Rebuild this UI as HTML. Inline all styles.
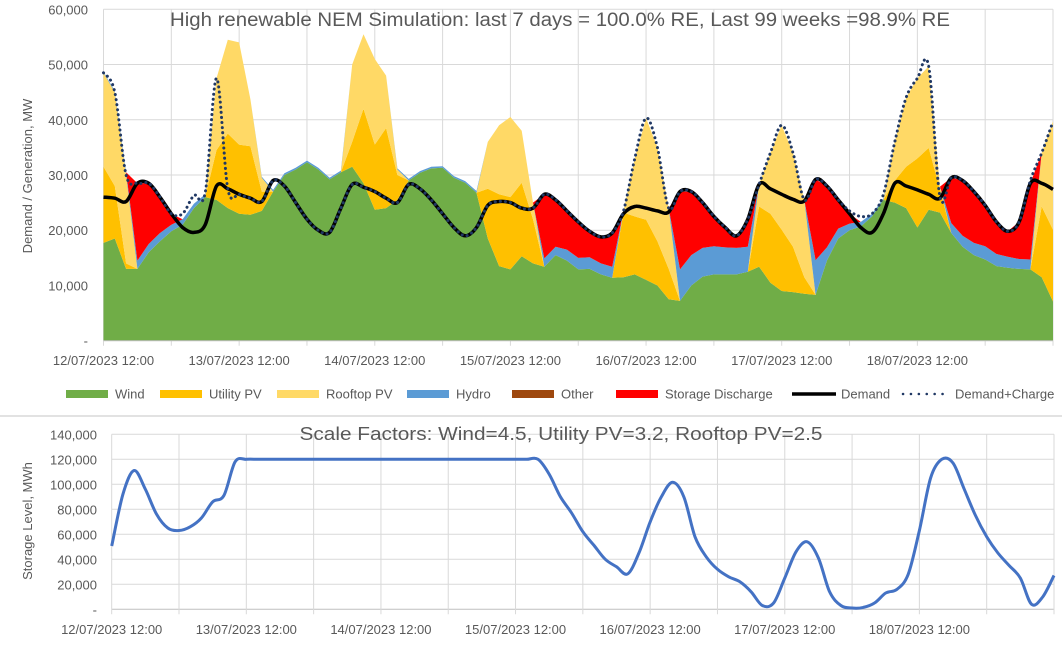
<!DOCTYPE html>
<html><head><meta charset="utf-8"><style>
html,body{margin:0;padding:0;background:#fff;}
svg{display:block;font-family:"Liberation Sans",sans-serif;}
</style></head><body>
<svg id="chart" width="1062" height="646" viewBox="0 0 1062 646" xmlns="http://www.w3.org/2000/svg">
<rect x="0" y="0" width="1062" height="646" fill="#fff"/>
<g id="topGrid"></g>
<g id="topAreas"></g>
<g id="topLines"></g>
<g id="topAxes"></g>
<text x="560" y="26" font-size="19" fill="#595959" text-anchor="middle" textLength="780" lengthAdjust="spacingAndGlyphs">High renewable NEM Simulation: last 7 days = 100.0% RE, Last 99 weeks =98.9% RE</text>
<text transform="translate(32,176) rotate(-90)" font-size="13" fill="#595959" text-anchor="middle">Demand / Generation, MW</text>
<g id="legend"></g>
<line x1="0" y1="416" x2="1062" y2="416" stroke="#d9d9d9" stroke-width="1.5"/>
<g id="botGrid"></g>
<g id="botLines"></g>
<g id="botAxes"></g>
<text x="561" y="440" font-size="18" fill="#595959" text-anchor="middle" textLength="523" lengthAdjust="spacingAndGlyphs">Scale Factors: Wind=4.5, Utility PV=3.2, Rooftop PV=2.5</text>
<text transform="translate(32,521) rotate(-90)" font-size="13" fill="#595959" text-anchor="middle">Storage Level, MWh</text>
</svg>
<script>
// values in thousand MW, sampled every 2 hours from 12/07/2023 12:00
const dayLabels = ["12/07/2023 12:00","13/07/2023 12:00","14/07/2023 12:00","15/07/2023 12:00","16/07/2023 12:00","17/07/2023 12:00","18/07/2023 12:00"];
const topTicks = [0,10,20,30,40,50,60];
const topTickLabels = ["-","10,000","20,000","30,000","40,000","50,000","60,000"];
const botTicks = [0,20,40,60,80,100,120,140];
const botTickLabels = ["-","20,000","40,000","60,000","80,000","100,000","120,000","140,000"];
const wind = [17.7,18.5,13.0,13.0,16.0,18.0,19.8,21.0,24.0,26.0,25.5,24.0,23.0,22.8,23.5,27.0,30.0,31.0,32.3,31.0,29.2,30.5,31.5,28.5,23.7,24.0,25.5,29.0,30.4,31.2,31.3,29.5,28.6,26.8,18.5,13.5,12.9,15.3,14.0,13.4,15.5,14.5,12.9,13.0,12.0,11.4,11.5,12.0,11.0,10.0,7.5,7.2,10.0,11.6,12.0,12.0,12.0,12.5,13.4,10.5,9.0,8.8,8.5,8.3,14.5,18.5,20.0,20.7,22.5,25.5,25.0,24.0,20.5,23.7,23.2,19.5,17.0,15.5,14.7,13.5,13.2,13.0,12.9,11.5,7.1];
const utilityPV = [13.8,9.5,1,0,0,0,0,0,0,0,9,13.5,12.5,12.4,3.5,0,0,0,0,0,0,0,4.5,13.5,11.8,14.5,4.5,0,0,0,0,0,0,0,9,13,13.1,13.3,8,0,0,0,0,0,0,0,11.7,10.5,10.9,8,5.5,0,0,0,0,0,0,0,10.9,12.5,11.1,8.2,3,0,0,0,0,0,0,0,4,7.5,12.5,11.2,4.2,0,0,0,0,0,0,0,0,12.8,13];
const rooftopPV = [17,17,16,0,0,0,0,0,0,0,13,17,18.5,8.5,2.5,0,0,0,0,0,0,0,14,13.5,15.5,9.5,1,0,0,0,0,0,0,0,8.5,12.5,14.5,9.4,3,0,0,0,0,0,0,0,0.3,10.5,18.4,17,11,0,0,0,0,0,0,0,4,11,18.9,17,14,0,0,0,0,0,0,0,7,12.5,14.5,14.8,0.5,0,0,0,0,0,0,0,0,9.7,19.6];
const hydro = [0.2,0.2,0.5,1.5,1.5,1.5,1.2,1.0,0.8,0.5,0,0,0,0,0.2,0.3,0.3,0.3,0.3,0.3,0.3,0.3,0,0,0,0,0.2,0.3,0.3,0.3,0.3,0.3,0.3,0.3,0,0,0,0,0,1.5,1.5,2.0,2.1,2.1,2.0,2.0,0,0,0,0,0,5.7,5.5,5.2,5.1,4.9,4.8,4.5,0,0,0,0,0,6.3,2.4,1.8,1.2,0.8,0.5,0.3,0,0,0,0,0,1.8,2.0,2.2,2.4,2.2,2.0,1.8,1.8,0,0];
const other = [0,0,0,0,0,0,0,0,0,0,0,0,0,0,0,0,0,0,0,0,0,0,0,0,0,0,0,0,0,0,0,0,0,0,0,0,0,0,0,0,0,0,0,0,0,0,0,0,0,0,0,0,0,0,0,0,0,0,0,0,0,0,0,0,0,0,0,0,0,0,0,0,0,0,0,0,0,0,0,0,0,0,0,0,0];
const storage = [0,0,0,14,11,6.5,2,0,0,0,0,0,0,0,0,0,0,0,0,0,0,0,0,0,0,0,0,0,0,0,0,0,0,0,0,0,0,0,0,11.6,8.5,7,6.5,4.7,4.8,6.1,0,0,0,0,0,14.1,11.5,8.2,5.4,3.6,2.2,5,0,0,0,0,0,14.6,11.1,5.2,1.8,0,0,0,0,0,0,0,0,8.2,10,9.3,7.4,5.8,4.6,6.7,13.8,0,0];
const demand = [26.0,25.8,25.2,28.5,28.5,26.0,23.0,20.5,19.6,21.0,28.0,27.5,26.5,25.8,25.2,29.0,28.0,25.0,22.0,20.0,19.6,24.0,28.3,27.8,27.0,25.8,25.0,28.3,27.5,25.5,23.0,20.5,19.0,20.5,24.5,25.2,25.0,24.0,24.0,26.5,25.5,23.5,21.5,19.8,18.8,19.5,23.0,24.3,24.0,23.5,23.3,27.0,27.0,25.0,22.5,20.5,19.0,22.0,28.3,27.5,26.5,25.6,25.3,29.2,28.0,25.5,23.0,20.5,19.6,23.0,28.5,28.0,27.3,26.5,25.8,29.5,29.0,27.0,24.5,21.5,19.8,21.5,28.5,28.5,27.4];
const demandCharge = [48.5,45,30,28.5,28.5,26.0,23.0,23,26.3,26.8,47.5,27.5,26.5,25.8,25.2,29.0,28.0,25.0,22.0,20.0,19.6,24.0,28.3,27.8,27.0,25.8,25.0,28.3,27.5,25.5,23.0,20.5,19.0,20.5,24.5,25.2,25.0,24.0,24.0,26.5,25.5,23.5,21.5,19.8,18.8,19.5,23.5,33,40.3,35,24,27.0,27.0,25.0,22.5,20.5,19.0,22.0,28.3,34,39,34,25.5,29.2,28.0,25.5,23.5,22.5,23,26.5,36,44,47.5,49.7,26,29.5,29.0,27.0,24.5,21.5,19.8,21.5,29,34,39.7];
// storage level, thousand MWh
const storageLevel = [50.6,92,111,96,76,65,63,66,73,86,91,118,120,120,120,120,120,120,120,120,120,120,120,120,120,120,120,120,120,120,120,120,120,120,120,120,120,120,120,108,90,77,62,51,40,34,28.3,45,70,90,101.6,90,58,42,32,26,22,14,3,5,25,46,54,41,14,3,1,1.5,5,13,16,28,63,105,120,117,96,75,58,45,35,25,4,10,27];

const NS = "http://www.w3.org/2000/svg";
const hours = [];
for (let i = 0; i < wind.length; i++) hours.push(i * 2);
const xTop = t => 103.5 + t / 168 * (1053 - 103.5);
const yTop = v => 340.7 - v / 60 * 331.4;
const xBot = t => 111.7 + t / 168 * (1054 - 111.7);
const yBot = v => 609.3 - v / 140 * 175;
function mk(tag, attrs, parent) {
  const e = document.createElementNS(NS, tag);
  for (const k in attrs) e.setAttribute(k, attrs[k]);
  parent.appendChild(e);
  return e;
}
const gTopGrid = document.getElementById('topGrid');
const gTopAreas = document.getElementById('topAreas');
const gTopLines = document.getElementById('topLines');
const gTopAxes = document.getElementById('topAxes');
const gBotGrid = document.getElementById('botGrid');
const gBotLines = document.getElementById('botLines');
const gBotAxes = document.getElementById('botAxes');
const gLegend = document.getElementById('legend');

topTicks.forEach((v, i) => {
  if (i > 0) {
    const l = mk('line', {x1: xTop(0), x2: xTop(168), y1: yTop(v), y2: yTop(v), stroke: '#d9d9d9', 'stroke-width': 1}, gTopGrid);
    
    
  }
  const tx = mk('text', {x: 88, y: yTop(v) + 5, 'font-size': 13, fill: '#595959', 'text-anchor': 'end'}, gTopAxes);
  tx.textContent = topTickLabels[i];
  
  
});
for (let h = 0; h <= 168; h += 12) {
  const l = mk('line', {x1: xTop(h), x2: xTop(h), y1: yTop(60), y2: yTop(0) + 5, stroke: '#d9d9d9', 'stroke-width': 1}, gTopGrid);
  
  
}
dayLabels.forEach((s, i) => {
  const tx = mk('text', {x: xTop(i * 24), y: 365, 'font-size': 13, fill: '#595959', 'text-anchor': 'middle'}, gTopAxes);
  tx.textContent = s;
  
  
});

const stackSeries = [
  {name: 'wind-area', data: wind, color: '#70AD47'},
  {name: 'utility-pv-area', data: utilityPV, color: '#FFC000'},
  {name: 'rooftop-pv-area', data: rooftopPV, color: '#FFD966'},
  {name: 'hydro-area', data: hydro, color: '#5B9BD5'},
  {name: 'other-area', data: other, color: '#9E480E'},
  {name: 'storage-discharge-area', data: storage, color: '#FF0000'}
];
const base = hours.map(() => 0);
stackSeries.forEach(s => {
  const top = base.map((b, i) => b + s.data[i]);
  let d = '';
  hours.forEach((h, i) => { d += (i ? 'L' : 'M') + xTop(h).toFixed(1) + ',' + yTop(top[i]).toFixed(1); });
  for (let i = hours.length - 1; i >= 0; i--) d += 'L' + xTop(hours[i]).toFixed(1) + ',' + yTop(base[i]).toFixed(1);
  d += 'Z';
  const p = mk('path', {d: d, fill: s.color, stroke: 'none'}, gTopAreas);
  
  
  top.forEach((v, i) => base[i] = v);
});
const ax = mk('line', {x1: xTop(0), x2: xTop(168), y1: yTop(0), y2: yTop(0), stroke: '#bfbfbf', 'stroke-width': 1}, gTopAxes);



// smoothed (Catmull-Rom) line through data points
function smoothPath(arr, xf, yf) {
  const pts = hours.map((h, i) => [xf(h), yf(arr[i])]);
  let d = 'M' + pts[0][0].toFixed(1) + ',' + pts[0][1].toFixed(1);
  for (let i = 0; i < pts.length - 1; i++) {
    const p0 = pts[Math.max(0, i - 1)], p1 = pts[i], p2 = pts[i + 1], p3 = pts[Math.min(pts.length - 1, i + 2)];
    const c1x = p1[0] + (p2[0] - p0[0]) / 6, c1y = p1[1] + (p2[1] - p0[1]) / 6;
    const c2x = p2[0] - (p3[0] - p1[0]) / 6, c2y = p2[1] - (p3[1] - p1[1]) / 6;
    d += 'C' + c1x.toFixed(1) + ',' + c1y.toFixed(1) + ' ' + c2x.toFixed(1) + ',' + c2y.toFixed(1) + ' ' + p2[0].toFixed(1) + ',' + p2[1].toFixed(1);
  }
  return d;
}
const dl = mk('path', {d: smoothPath(demand, xTop, yTop), fill: 'none', stroke: '#000', 'stroke-width': 3.5, 'stroke-linejoin': 'round'}, gTopLines);


const dc = mk('path', {d: smoothPath(demandCharge, xTop, yTop), fill: 'none', stroke: '#203864', 'stroke-width': 3, 'stroke-dasharray': '0.1 5', 'stroke-linecap': 'round'}, gTopLines);



const legendItems = [
  {label: 'Wind', x: 66, type: 'box', color: '#70AD47'},
  {label: 'Utility PV', x: 160, type: 'box', color: '#FFC000'},
  {label: 'Rooftop PV', x: 277, type: 'box', color: '#FFD966'},
  {label: 'Hydro', x: 407, type: 'box', color: '#5B9BD5'},
  {label: 'Other', x: 512, type: 'box', color: '#9E480E'},
  {label: 'Storage Discharge', x: 616, type: 'box', color: '#FF0000'},
  {label: 'Demand', x: 792, type: 'line', color: '#000'},
  {label: 'Demand+Charge', x: 903, type: 'dot', color: '#203864'}
];
legendItems.forEach(it => {
  const g = mk('g', {}, gLegend);
  
  
  let tx;
  if (it.type === 'box') {
    mk('rect', {x: it.x, y: 390, width: 42, height: 8, fill: it.color}, g);
    tx = it.x + 49;
  } else if (it.type === 'line') {
    mk('line', {x1: it.x, x2: it.x + 44, y1: 394, y2: 394, stroke: it.color, 'stroke-width': 3.5}, g);
    tx = it.x + 49;
  } else {
    mk('line', {x1: it.x, x2: it.x + 42, y1: 394, y2: 394, stroke: it.color, 'stroke-width': 2.5, 'stroke-dasharray': '0.1 7.8', 'stroke-linecap': 'round'}, g);
    tx = it.x + 52;
  }
  const t = mk('text', {x: tx, y: 398.5, 'font-size': 13, fill: '#595959'}, g);
  t.textContent = it.label;
});

botTicks.forEach((v, i) => {
  const l = mk('line', {x1: xBot(0), x2: xBot(168), y1: yBot(v), y2: yBot(v), stroke: i === 0 ? '#bfbfbf' : '#d9d9d9', 'stroke-width': 1}, gBotGrid);
  
  
  const tx = mk('text', {x: 97, y: yBot(v) + 5, 'font-size': 13, fill: '#595959', 'text-anchor': 'end'}, gBotAxes);
  tx.textContent = botTickLabels[i];
  
  
});
for (let h = 0; h <= 168; h += 12) {
  const l = mk('line', {x1: xBot(h), x2: xBot(h), y1: yBot(140), y2: yBot(0) + 5, stroke: '#d9d9d9', 'stroke-width': 1}, gBotGrid);
  
  
}
dayLabels.forEach((s, i) => {
  const tx = mk('text', {x: xBot(i * 24), y: 634, 'font-size': 13, fill: '#595959', 'text-anchor': 'middle'}, gBotAxes);
  tx.textContent = s;
  
  
});
const sl = mk('path', {d: smoothPath(storageLevel, xBot, yBot), fill: 'none', stroke: '#4472C4', 'stroke-width': 3, 'stroke-linejoin': 'round'}, gBotLines);


</script>
</body></html>
